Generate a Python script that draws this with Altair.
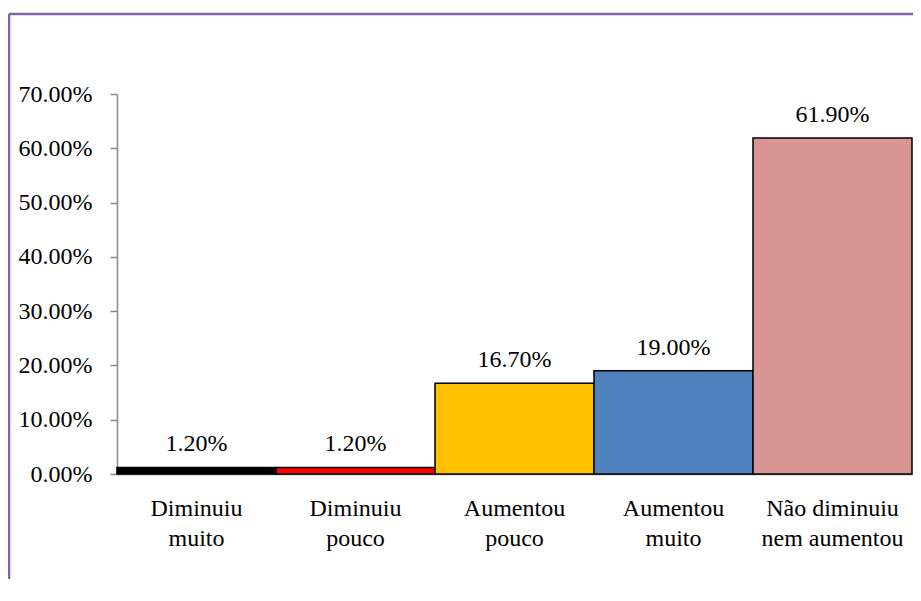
import altair as alt
import pandas as pd

categories = ["Diminuiu\nmuito", "Diminuiu\npouco", "Aumentou\npouco", "Aumentou\nmuito", "Não diminuiu\nnem aumentou"]
values = [0.012, 0.012, 0.167, 0.190, 0.619]
colors = ["#000000", "#FF0000", "#FFC000", "#4F81BD", "#D99594"]
y_ticks = [0.0, 0.1, 0.2, 0.3, 0.4, 0.5, 0.6, 0.7]

df = pd.DataFrame({"cat": categories, "val": values})

FONT = "Liberation Serif"

x_enc = alt.X(
    "cat:N",
    sort=categories,
    title=None,
    scale=alt.Scale(paddingInner=0, paddingOuter=0),
    axis=alt.Axis(
        labelExpr="split(datum.label, '\\n')",
        labelAngle=0,
        labelFont=FONT,
        labelFontSize=24,
        labelColor="#000000",
        labelBaseline="alphabetic",
        labelPadding=41,
        labelLineHeight=30,
        ticks=False,
        tickSize=0,
        domainColor="#878787",
        domainWidth=1.5,
        labelLimit=300,
    ),
)

y_enc = alt.Y(
    "val:Q",
    title=None,
    scale=alt.Scale(domain=[0, 0.7], nice=False),
    axis=alt.Axis(
        values=y_ticks,
        format=".2%",
        labelFont=FONT,
        labelFontSize=24,
        labelColor="#000000",
        labelPadding=18,
        tickSize=7,
        tickColor="#878787",
        tickWidth=1.5,
        domainColor="#878787",
        domainWidth=1.5,
        grid=False,
    ),
)

bars = alt.Chart(df).mark_bar(stroke="#000000", strokeWidth=1.5).encode(
    x=x_enc,
    y=y_enc,
    color=alt.Color("cat:N", sort=categories, scale=alt.Scale(domain=categories, range=colors), legend=None),
)

labels = alt.Chart(df).mark_text(
    font=FONT, fontSize=24, baseline="alphabetic", dy=-16, color="#000000"
).encode(
    x=alt.X("cat:N", sort=categories),
    y="val:Q",
    text=alt.Text("val:Q", format=".2%"),
)

frame_data = alt.Data(values=[{"k": 1}])
frame_left = alt.Chart(frame_data).mark_rule(color="#8064A2", strokeWidth=2.5).encode(
    x=alt.value(-108), y=alt.value(-80), y2=alt.value(700)
)
frame_top = alt.Chart(frame_data).mark_rule(color="#8064A2", strokeWidth=2.5).encode(
    x=alt.value(-108), x2=alt.value(900), y=alt.value(-80)
)

chart = alt.layer(bars, labels, frame_left, frame_top).properties(
    width=795,
    height=380,
    autosize=alt.AutoSizeParams(type="none"),
    padding={"left": 109, "top": 86, "right": 1, "bottom": 105},
    background="#FFFFFF",
).configure_view(stroke=None)

chart.save("out.html", embed_options={"renderer": "svg", "actions": False})
